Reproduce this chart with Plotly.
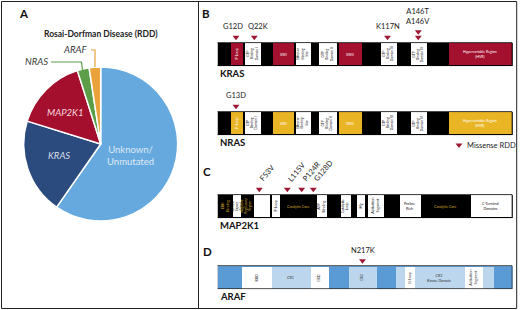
import plotly.graph_objects as go

W, H = 520, 310

# ---------------- Panel A data ----------------
pie_labels = ["Unknown/Unmutated", "KRAS", "MAP2K1", "NRAS", "ARAF"]
pie_values = [59.7, 20.1, 15.3, 2.5, 2.4]

# ---------------- Panels B-D data (positions in diagram units along each bar) ----------------
BAR_LEN = 295.2

ras_domain_names = ["P-Loop", "GTP<br>Binding<br>Domain I", "SWI", "Effector<br>Binding<br>Site",
                    "GTP<br>Binding<br>Domain II", "SWII", "GTP<br>Binding<br>Domain III",
                    "GTP<br>Binding<br>Domain IV", "Hypervariable Region<br>(HVR)"]
ras_domain_start = [12.5, 26.8, 55.2, 77.5, 100.8, 120.8, 162.5, 192.5, 230.8]
ras_domain_end = [25.2, 42.5, 75.8, 92.5, 118.5, 143.5, 178.5, 208.5, 294.2]
ras_domain_kind = ["accent", "plain", "accent", "plain", "plain", "accent", "plain", "plain", "accent"]

kras_mut_labels = ["G12D", "Q22K", "K117N", "A146T", "A146V"]
kras_mut_pos = [18.5, 36.8, 170.0, 200.8, 200.8]
nras_mut_labels = ["G13D"]
nras_mut_pos = [18.5]

map2k1_domain_names = ["ERK<br>Binding", "Nuclear<br>Export<br>Signal", "Negative<br>Regulatory<br>Region", "",
                       "P-Loop", "Catalytic Core", "ATP<br>Binding", "Catalytic<br>Loop", "Mg",
                       "Activation<br>Segment", "Proline<br>Rich", "Catalytic Core", "C-Terminal<br>Domains"]
map2k1_domain_start = [0.8, 15.2, 23.2, 35.8, 54.2, 61.5, 99.2, 122.5, 139.2, 150.0, 181.8, 202.5, 252.5]
map2k1_domain_end = [15.2, 23.2, 33.2, 51.5, 61.5, 99.2, 108.5, 132.5, 146.5, 166.0, 202.5, 252.5, 294.2]
map2k1_domain_kind = ["core", "plain", "core", "plain", "plain", "core", "plain", "plain", "plain",
                      "plain", "plain", "core", "plain"]
map2k1_mut_labels = ["F53V", "L115V", "P124R", "G128D"]
map2k1_mut_pos = [41.8, 69.8, 84.2, 95.8]

araf_domain_names = ["RBD", "CR1", "CRD", "CR2", "", "G-Loop", "CR3<br>Kinase Domain", "Activation<br>Segment", ""]
araf_domain_start = [24.2, 54.2, 92.5, 130.8, 177.5, 187.0, 196.5, 246.5, 264.5]
araf_domain_end = [54.2, 92.5, 110.8, 158.5, 187.0, 196.5, 246.5, 264.5, 275.8]
araf_domain_kind = ["plain", "light", "plain", "light", "light", "plain", "light", "plain", "light"]
araf_mut_labels = ["N217K"]
araf_mut_pos = [145.0]

# ---------------- styles ----------------
FONT = "Lato, 'Open Sans', sans-serif"
MUT_COLOR = "#9c1833"
VERTICAL = {"P-Loop", "GTP<br>Binding<br>Domain I", "Effector<br>Binding<br>Site", "GTP<br>Binding<br>Domain II",
            "GTP<br>Binding<br>Domain III", "GTP<br>Binding<br>Domain IV", "ERK<br>Binding",
            "Nuclear<br>Export<br>Signal", "Negative<br>Regulatory<br>Region", "ATP<br>Binding",
            "Catalytic<br>Loop", "Mg", "Activation<br>Segment", "RBD", "CRD", "CR2", "G-Loop"}
LABEL_SHIFT = {"G12D": -3.5, "Q22K": 3.5}   # horizontal nudge (px) of crowded mutation labels

tracks = [
    dict(name="KRAS", yc=54.2, base="#000000", outline="#000000",
         names=ras_domain_names, start=ras_domain_start, end=ras_domain_end, kind=ras_domain_kind,
         fills={"accent": "#a3112e", "plain": "#ffffff"}, tcol={"accent": "#ffffff", "plain": "#111111"},
         muts=kras_mut_labels, mpos=kras_mut_pos, rotated=False),
    dict(name="NRAS", yc=123.3, base="#000000", outline="#000000",
         names=ras_domain_names, start=ras_domain_start, end=ras_domain_end, kind=ras_domain_kind,
         fills={"accent": "#e9b524", "plain": "#ffffff"}, tcol={"accent": "#ffffff", "plain": "#111111"},
         muts=nras_mut_labels, mpos=nras_mut_pos, rotated=False),
    dict(name="MAP2K1", yc=206.2, base="#000000", outline="#000000",
         names=map2k1_domain_names, start=map2k1_domain_start, end=map2k1_domain_end, kind=map2k1_domain_kind,
         fills={"core": "#000000", "plain": "#ffffff"}, tcol={"core": "#d9a82a", "plain": "#111111"},
         muts=map2k1_mut_labels, mpos=map2k1_mut_pos, rotated=True),
    dict(name="ARAF", yc=277.7, base="#5b9bd5", outline="#2a2a2a",
         names=araf_domain_names, start=araf_domain_start, end=araf_domain_end, kind=araf_domain_kind,
         fills={"light": "#bcd6ee", "plain": "#ffffff"}, tcol={"light": "#333333", "plain": "#333333"},
         muts=araf_mut_labels, mpos=araf_mut_pos, rotated=False),
]
BAR_H = 23


def px(x):
    return x / W


def py(y):
    return 1 - y / H


fig = go.Figure()
annotations = []
shapes = []

# ---------------- Panel A: pie ----------------
cx, cy, r = 100.7, 144.0, 77.0
fig.add_trace(go.Pie(
    labels=pie_labels, values=pie_values, sort=False, direction="clockwise", rotation=0,
    marker=dict(colors=["#66a9de", "#2b4a7d", "#a50f2e", "#5c9d48", "#e9a33a"],
                line=dict(color="#ffffff", width=1.5)),
    textinfo="none", hoverinfo="label+percent", showlegend=False,
    domain=dict(x=[px(cx - r), px(cx + r)], y=[py(cy + r), py(cy - r)]),
))

pie_text = [
    ("Unknown/<br>Unmutated", 130, 155, "#dfeaf6", "center"),
    ("<i>KRAS</i>", 58.5, 155, "#d9dfe9", "center"),
    ("<i>MAP2K1</i>", 65, 112, "#f5d9de", "center"),
    ("<i>NRAS</i>", 49.5, 62, "#3a3a3a", "right"),
    ("<i>ARAF</i>", 89.5, 50, "#3a3a3a", "right"),
]
for t, x, y, c, xa in pie_text:
    annotations.append(dict(text=t, x=px(x), y=py(y), xref="paper", yref="paper", showarrow=False,
                            xanchor=xa, yanchor="middle", font=dict(family=FONT, size=9.5, color=c)))


def path(pts):
    return "M " + " L ".join(f"{px(a):.5f},{py(b):.5f}" for a, b in pts)


shapes.append(dict(type="path", xref="paper", yref="paper", path=path([(51, 62), (81.5, 62), (82.5, 70)]),
                   line=dict(color="#5c9d48", width=1.2)))
shapes.append(dict(type="path", xref="paper", yref="paper", path=path([(91, 50), (95, 50), (95, 67)]),
                   line=dict(color="#e9a33a", width=1.2)))

annotations.append(dict(text="<b>Rosai-Dorfman Disease (RDD)</b>", x=px(101), y=py(34), xref="paper",
                        yref="paper", showarrow=False, xanchor="center", yanchor="middle",
                        font=dict(family=FONT, size=8.5, color="#222")))

# panel letters
for letter, x, y in [("A", 24, 13), ("B", 206, 13), ("C", 207, 171.5), ("D", 207, 251.7)]:
    annotations.append(dict(text=f"<b>{letter}</b>", x=px(x), y=py(y), xref="paper", yref="paper",
                            showarrow=False, xanchor="center", yanchor="middle",
                            font=dict(family=FONT, size=11.5, color="#111")))

# frames
shapes.append(dict(type="rect", xref="paper", yref="paper", x0=px(1.5), x1=px(516.7), y0=py(308.5), y1=py(1.5),
                   line=dict(color="#222", width=1)))
shapes.append(dict(type="line", xref="paper", yref="paper", x0=px(198.5), x1=px(198.5), y0=py(308.5), y1=py(1.5),
                   line=dict(color="#222", width=1)))

# ---------------- Panels B-D: protein diagrams ----------------
for tr in tracks:
    yc = tr["yc"]
    top = yc - BAR_H / 2
    fig.add_trace(go.Bar(orientation="h", y=[yc], base=[0], x=[BAR_LEN], width=[BAR_H],
                         marker=dict(color=tr["base"], line=dict(width=0)), showlegend=False,
                         hoverinfo="skip", xaxis="x", yaxis="y"))
    for nm, s, e, k in zip(tr["names"], tr["start"], tr["end"], tr["kind"]):
        fig.add_trace(go.Bar(orientation="h", y=[yc], base=[s], x=[e - s], width=[BAR_H - 1.2],
                             marker=dict(color=tr["fills"][k], line=dict(width=0)), showlegend=False,
                             hovertext=nm.replace("<br>", " "), hoverinfo="text", xaxis="x", yaxis="y"))
        if nm:
            vert = nm in VERTICAL
            nlines = nm.count("<br>") + 1
            size = 3.3 if (vert and nlines >= 3) else 3.6
            annotations.append(dict(text=nm, x=(s + e) / 2, y=yc, xref="x", yref="y", showarrow=False,
                                    xanchor="center", yanchor="middle",
                                    textangle=-90 if vert else 0,
                                    font=dict(family=FONT, size=size, color=tr["tcol"][k])))
    fig.add_trace(go.Bar(orientation="h", y=[yc], base=[0], x=[BAR_LEN], width=[BAR_H],
                         marker=dict(color="rgba(0,0,0,0)", line=dict(color=tr["outline"], width=0.8)),
                         showlegend=False, hoverinfo="skip", xaxis="x", yaxis="y"))
    annotations.append(dict(text=f"<b>{tr['name']}</b>", x=0, y=yc + BAR_H / 2 + 7.5, xref="x", yref="y",
                            showarrow=False, xanchor="left", yanchor="middle",
                            font=dict(family=FONT, size=9.5, color="#111")))
    groups = {}
    for lab, p in zip(tr["muts"], tr["mpos"]):
        groups.setdefault(p, []).append(lab)
    mx, my = [], []
    for p, labs in groups.items():
        for i in range(len(labs)):
            mx.append(p)
            my.append(top - 5.5 - 5.5 * i)
        ytop = top - 5.5 - 5.5 * (len(labs) - 1)
        if tr["rotated"]:
            annotations.append(dict(text=labs[0], x=p - 4, y=ytop - 3.5, xref="x", yref="y", showarrow=False,
                                    xanchor="left", yanchor="bottom", textangle=-50,
                                    font=dict(family=FONT, size=7.5, color="#222")))
        else:
            annotations.append(dict(text="<br>".join(labs), x=p, y=ytop - 4, xref="x", yref="y",
                                    xshift=LABEL_SHIFT.get(labs[0], 0),
                                    showarrow=False, xanchor="center", yanchor="bottom",
                                    font=dict(family=FONT, size=7.5, color="#222")))
    fig.add_trace(go.Scatter(x=mx, y=my, mode="markers", xaxis="x", yaxis="y", showlegend=False,
                             marker=dict(symbol="triangle-down", size=6, color=MUT_COLOR,
                                         line=dict(width=0)), hoverinfo="x"))

# legend key (Missense RDD)
fig.add_trace(go.Scatter(x=[241.5], y=[145], mode="markers", xaxis="x", yaxis="y", showlegend=False,
                         marker=dict(symbol="triangle-down", size=6, color=MUT_COLOR), hoverinfo="skip"))
annotations.append(dict(text="Missense RDD", x=247, y=145.5, xref="x", yref="y", showarrow=False,
                        xanchor="left", yanchor="middle", font=dict(family=FONT, size=7.5, color="#222")))

fig.update_layout(
    width=W, height=H, margin=dict(l=0, r=0, t=0, b=0),
    paper_bgcolor="#ffffff", plot_bgcolor="rgba(0,0,0,0)",
    barmode="overlay", bargap=0,
    xaxis=dict(domain=[217.5 / W, 512.7 / W], range=[0, BAR_LEN], visible=False, fixedrange=True),
    yaxis=dict(domain=[0, 1], range=[H, 0], visible=False, fixedrange=True),
    annotations=annotations, shapes=shapes,
    font=dict(family=FONT),
)

fig.write_html("out.html", config={"displayModeBar": False},
               post_script="document.body.style.margin='0px';")
